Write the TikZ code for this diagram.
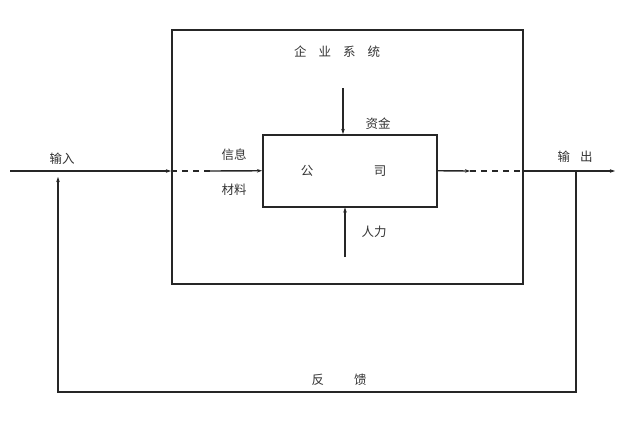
\documentclass[tikz,border=0pt]{standalone}
\usepackage{fontspec}
\newfontfamily\cjk{Noto Sans CJK SC}
\usetikzlibrary{arrows.meta}
\begin{document}
\begin{tikzpicture}[x=1pt,y=-1pt,
  lbl/.style={font=\cjk\fontsize{12.5}{12.5}\selectfont, text=black!80, inner sep=0pt},
  ln/.style={line width=1.4pt, draw=black!85},
  arr/.style={ln, -{Stealth[length=5pt,width=3.5pt]}},
  dsh/.style={ln, dash pattern=on 6pt off 5pt}]
\useasboundingbox (0,0) rectangle (626,423);
\fill[white] (0,0) rectangle (626,423);
% boxes
\node[draw=black!85, line width=1.5pt, minimum width=351pt, minimum height=254pt, anchor=north west, inner sep=0pt] (outer) at (171,29) {};
\node[draw=black!85, line width=1.5pt, minimum width=174pt, minimum height=72pt, anchor=north west, inner sep=0pt] (inner) at (262,134) {};
% coordinates
\coordinate (inStart) at (10,171);
\coordinate (inBorder) at (171,171);
\coordinate (inDashEnd) at (210,171);
\coordinate (outSolidEnd) at (470,171);
\coordinate (outBorder) at (522,171);
\coordinate (outEnd) at (615,171);
\coordinate (fbTop) at (576,171);
\coordinate (fbR) at (576,392);
\coordinate (fbL) at (58,392);
\coordinate (fbEnd) at (58,177);
\coordinate (topStart) at (343,88);
\coordinate (botStart) at (345,257);
% input
\draw[arr] (inStart) -- (inBorder);
\draw[dsh] (inBorder) -- (inDashEnd);
\draw[arr] (inDashEnd) -- (inner.west);
% output
\draw[arr] (inner.east) -- (outSolidEnd);
\draw[dsh] (outSolidEnd) -- (outBorder);
\draw[arr] (outBorder) -- (outEnd);
% feedback
\draw[arr] (fbTop) -- (fbR) -- (fbL) -- (fbEnd);
% top and bottom inputs
\draw[arr] (topStart) -- (topStart |- inner.north);
\draw[arr] (botStart) -- (botStart |- inner.south);
% labels
\node[lbl] (title) at (337,52) {企\hspace{12pt}业\hspace{12pt}系\hspace{12pt}统};
\node[lbl] (zj) at (378,124) {资金};
\node[lbl] (xx) at (234,155) {信息};
\node[lbl] (cl) at (234,190) {材料};
\node[lbl] (c1) at (307,171) {公};
\node[lbl] (c2) at (380,171) {司};
\node[lbl] (rl) at (374,232) {人力};
\node[lbl] (sr) at (62,159) {输入};
\node[lbl] (sc) at (575,157) {输\hspace{10pt}出};
\node[lbl] (fk) at (339,380) {反\hspace{30pt}馈};
\end{tikzpicture}
\end{document}
